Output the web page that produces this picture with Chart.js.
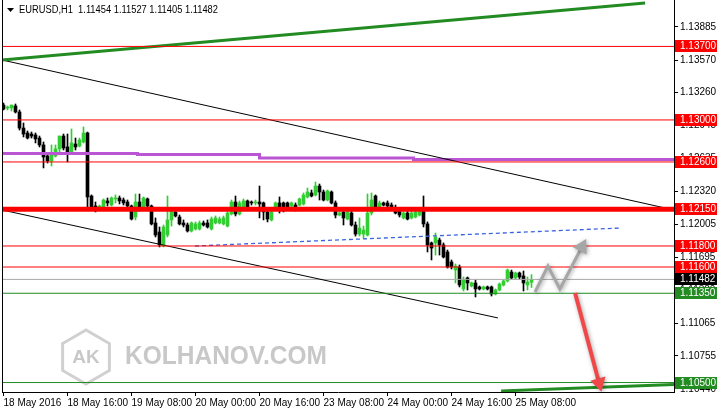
<!DOCTYPE html>
<html>
<head>
<meta charset="utf-8">
<script src="https://cdn.jsdelivr.net/npm/chart.js@4.4.1/dist/chart.umd.min.js"></script>
<style>
  html, body { margin: 0; padding: 0; background: #fff; }
  #wrap { width: 717px; height: 413px; }
</style>
</head>
<body>
<div id="wrap"><canvas id="chart"></canvas></div>
<script>
// EURUSD H1, 18 May 2016 00:00 .. 25 May 2016 12:00 (one bar per hour)
const opens = [
  1.13142,1.13114,1.13114,1.13133,1.13076,1.12923,1.12876,1.12866,1.12857,1.12828,
  1.12762,1.12657,1.12609,1.12657,1.12724,1.12847,1.12743,1.12695,1.12771,1.12752,
  1.12790,1.12876,1.12276,1.12181,1.12162,1.12171,1.12229,1.12190,1.12248,1.12257,
  1.12238,1.12219,1.12181,1.12076,1.12219,1.12171,1.12248,1.12181,1.12019,1.11933,
  1.11800,1.11905,1.12048,1.12124,1.12076,1.12019,1.12000,1.11943,1.11962,1.11962,
  1.12019,1.12019,1.11962,1.12019,1.12019,1.12010,1.11990,1.12105,1.12219,1.12105,
  1.12162,1.12229,1.12219,1.12210,1.12219,1.12210,1.12124,1.12048,1.12162,1.12210,
  1.12210,1.12210,1.12181,1.12190,1.12190,1.12200,1.12267,1.12305,1.12286,1.12371,
  1.12314,1.12238,1.12314,1.12210,1.12095,1.12124,1.12057,1.12114,1.12000,1.11914,
  1.11914,1.11905,1.12114,1.12276,1.12171,1.12210,1.12210,1.12190,1.12143,1.12133,
  1.12067,1.12114,1.12067,1.12076,1.12095,1.12152,1.12010,1.11829,1.11829,1.11857,
  1.11810,1.11743,1.11648,1.11571,1.11600,1.11391,1.11496,1.11419,1.11448,1.11410,
  1.11391,1.11410,1.11410,1.11343,1.11381,1.11429,1.11467,1.11552,1.11496,1.11543,
  1.11515,1.11429,1.11454
];
const highs = [
  1.13161,1.13133,1.13142,1.13152,1.13095,1.12971,1.12895,1.12885,1.12876,1.12847,
  1.12790,1.12676,1.12762,1.12762,1.12847,1.12866,1.12866,1.12914,1.12828,1.12828,
  1.12933,1.12885,1.12286,1.12219,1.12190,1.12248,1.12257,1.12267,1.12286,1.12276,
  1.12257,1.12238,1.12190,1.12295,1.12295,1.12267,1.12257,1.12190,1.12067,1.11981,
  1.12000,1.12276,1.12143,1.12143,1.12095,1.12048,1.12019,1.12029,1.12029,1.12038,
  1.12038,1.12048,1.12076,1.12086,1.12076,1.12086,1.12133,1.12238,1.12276,1.12229,
  1.12248,1.12238,1.12229,1.12238,1.12371,1.12219,1.12143,1.12143,1.12219,1.12267,
  1.12219,1.12219,1.12219,1.12210,1.12257,1.12305,1.12352,1.12333,1.12409,1.12390,
  1.12333,1.12333,1.12324,1.12229,1.12133,1.12162,1.12133,1.12162,1.12029,1.12067,
  1.11990,1.12295,1.12305,1.12286,1.12229,1.12219,1.12229,1.12210,1.12190,1.12152,
  1.12124,1.12133,1.12133,1.12143,1.12162,1.12276,1.12029,1.11838,1.11924,1.11876,
  1.11829,1.11762,1.11667,1.11629,1.11619,1.11505,1.11505,1.11457,1.11476,1.11419,
  1.11419,1.11419,1.11419,1.11391,1.11448,1.11476,1.11581,1.11571,1.11552,1.11552,
  1.11562,1.11505,1.11527
];
const lows = [
  1.13095,1.13095,1.13085,1.13066,1.12904,1.12838,1.12819,1.12828,1.12781,1.12743,
  1.12543,1.12590,1.12562,1.12647,1.12695,1.12714,1.12600,1.12686,1.12714,1.12743,
  1.12781,1.12171,1.12162,1.12124,1.12143,1.12162,1.12181,1.12181,1.12210,1.12200,
  1.12190,1.12171,1.12048,1.12048,1.12133,1.12162,1.12171,1.12000,1.11886,1.11791,
  1.11791,1.11886,1.11990,1.12076,1.12000,1.11981,1.11933,1.11933,1.11952,1.11952,
  1.11990,1.11971,1.11952,1.12010,1.12010,1.12000,1.11981,1.12095,1.12086,1.12095,
  1.12152,1.12162,1.12190,1.12190,1.12067,1.12048,1.12029,1.12038,1.12152,1.12114,
  1.12124,1.12162,1.12171,1.12133,1.12181,1.12190,1.12257,1.12267,1.12276,1.12238,
  1.12229,1.12229,1.12200,1.12067,1.12086,1.12000,1.12048,1.11990,1.11895,1.11895,
  1.11876,1.11895,1.12095,1.12152,1.12162,1.12181,1.12171,1.12152,1.12105,1.12076,
  1.12057,1.12048,1.12057,1.12067,1.12086,1.11981,1.11743,1.11667,1.11714,1.11714,
  1.11686,1.11590,1.11581,1.11448,1.11410,1.11372,1.11381,1.11410,1.11315,1.11381,
  1.11381,1.11381,1.11324,1.11334,1.11372,1.11419,1.11457,1.11486,1.11486,1.11486,
  1.11372,1.11381,1.11405
];
const closes = [
  1.13104,1.13123,1.13142,1.13076,1.12923,1.12866,1.12828,1.12847,1.12819,1.12762,
  1.12647,1.12609,1.12666,1.12724,1.12847,1.12733,1.12695,1.12781,1.12743,1.12809,
  1.12876,1.12267,1.12171,1.12162,1.12181,1.12238,1.12210,1.12257,1.12257,1.12229,
  1.12210,1.12181,1.12057,1.12219,1.12171,1.12257,1.12181,1.12010,1.11905,1.11810,
  1.11981,1.12048,1.12133,1.12086,1.12010,1.12000,1.11943,1.12019,1.12010,1.12019,
  1.12000,1.11981,1.12057,1.12067,1.12057,1.12067,1.12114,1.12219,1.12105,1.12210,
  1.12229,1.12171,1.12210,1.12219,1.12200,1.12124,1.12057,1.12124,1.12210,1.12171,
  1.12143,1.12171,1.12210,1.12152,1.12248,1.12286,1.12314,1.12276,1.12371,1.12314,
  1.12238,1.12324,1.12210,1.12095,1.12114,1.12067,1.12124,1.12000,1.11914,1.11971,
  1.11952,1.12114,1.12238,1.12171,1.12210,1.12190,1.12181,1.12171,1.12114,1.12095,
  1.12114,1.12057,1.12114,1.12124,1.12143,1.12010,1.11810,1.11781,1.11886,1.11810,
  1.11695,1.11600,1.11600,1.11609,1.11429,1.11476,1.11448,1.11448,1.11391,1.11391,
  1.11410,1.11391,1.11343,1.11381,1.11438,1.11467,1.11571,1.11496,1.11543,1.11505,
  1.11448,1.11457,1.11482
];

// time axis (bar index -> label)
const tickIdx = [0, 16, 32, 48, 64, 80, 96, 112, 128];
const tickLabels = ["18 May 2016", "18 May 16:00", "19 May 08:00", "20 May 00:00",
  "20 May 16:00", "23 May 08:00", "24 May 00:00", "24 May 16:00", "25 May 08:00"];
const priceTicks = [1.13885, 1.13570, 1.13260, 1.12945, 1.12635, 1.12320,
  1.12005, 1.11695, 1.11380, 1.11065, 1.10755, 1.10440];

// chart objects
const redLevels = [1.13700, 1.13000, 1.12600, 1.12150, 1.11800, 1.11600];
const greenLevels = [1.11350, 1.10500];
const lastPrice = 1.11482;
const titleText = "EURUSD,H1  1.11454 1.11527 1.11405 1.11482";

const greenTopLine = [[-0.375, 1.13571], [160.4, 1.14113]];
const greenBottomLine = [[124.4, 1.10420], [167.625, 1.10482]];
const channelTop = [[-0.375, 1.13571], [167.625, 1.12143]];
const channelBottom = [[-0.375, 1.12143], [123.6, 1.11115]];
const blueDashed = [[47.9, 1.11800], [154.1, 1.11971]];
const purpleSteps = [[-0.375, 1.12700], [33.5, 1.12681], [64, 1.12671], [102.5, 1.12638], [135, 1.12624], [167.625, 1.12624]];
const grayArrow = [[132.9, 1.11362], [136.1, 1.11610], [139.1, 1.11391], [144.6, 1.11791]];
const redArrow = [[142.9, 1.11353], [148.9, 1.10496]];

const xMin = -0.375, xMax = 167.625;
const yMin = 1.10410, yMax = 1.14142;

const isBull = i => closes[i] >= opens[i];
const candleColor = ctx => isBull(ctx.dataIndex) ? '#32CD32' : '#000000';
const pts = arr => arr.map(p => ({x: p[0], y: p[1]}));

function hLine(level, color, width, order) {
  return {
    type: 'line', data: [{x: xMin, y: level}, {x: xMax, y: level}],
    borderColor: color, borderWidth: width, pointRadius: 0, order: order
  };
}
function segLine(arr, color, width, order, extra) {
  return Object.assign({
    type: 'line', data: pts(arr), borderColor: color, borderWidth: width,
    pointRadius: 0, tension: 0, order: order
  }, extra || {});
}

const datasets = [];
redLevels.forEach(v => datasets.push(hLine(v, '#ff0000', v === 1.12150 ? 5 : 1, 1)));
greenLevels.forEach(v => datasets.push(hLine(v, '#228b22', 1, 1)));
datasets.push(hLine(lastPrice, '#a8a8a8', 1, 3));
datasets.push(segLine(greenTopLine, '#228b22', 3, 1));
datasets.push(segLine(greenBottomLine, '#228b22', 3, 1));
datasets.push(segLine(channelTop, '#000000', 1, 1));
datasets.push(segLine(channelBottom, '#000000', 1, 1));
datasets.push(segLine(blueDashed, '#3b63e0', 1.3, 1, {borderDash: [4, 3]}));
datasets.push(segLine(purpleSteps, '#ba55d3', 3, 1, {stepped: 'after'}));
const arrowHead = (n, rot) => ({
  pointRadius: c => c.dataIndex === n - 1 ? 9 : 0,
  pointStyle: 'triangle', pointRotation: rot, pointBorderWidth: 0
});
datasets.push(segLine(grayArrow, '#a6a6a6', 3, 0,
  Object.assign({shadow: true, pointBackgroundColor: '#a6a6a6'}, arrowHead(grayArrow.length, 28))));
datasets.push(segLine(redArrow, '#f04848', 4, 0,
  Object.assign({shadow: true, pointBackgroundColor: '#f04848'}, arrowHead(redArrow.length, 165))));

datasets.push({
  type: 'bar', data: opens.map((o, i) => ({x: i, y: [o, closes[i]]})),
  backgroundColor: candleColor, barThickness: 3, grouped: false, order: 5
});
datasets.push({
  type: 'bar', data: lows.map((l, i) => ({x: i, y: [l, highs[i]]})),
  backgroundColor: candleColor, barThickness: 1, grouped: false, order: 6
});

const decor = {
  id: 'decor',
  beforeDatasetsDraw(chart) {
    const ctx = chart.ctx;
    ctx.save();
    // watermark
    const cx = 86, cy = 357, r = 27;
    ctx.strokeStyle = '#d0d0d0';
    ctx.lineWidth = 3;
    ctx.beginPath();
    for (let i = 0; i < 6; i++) {
      const a = Math.PI / 3 * i + Math.PI / 6;
      const px = cx + r * Math.cos(a), py = cy + r * Math.sin(a);
      i ? ctx.lineTo(px, py) : ctx.moveTo(px, py);
    }
    ctx.closePath();
    ctx.stroke();
    ctx.fillStyle = '#c8c8c8';
    ctx.textAlign = 'center';
    ctx.textBaseline = 'middle';
    ctx.font = 'bold 19px "Liberation Sans", Arial, sans-serif';
    ctx.fillText('AK', cx, cy + 1);
    ctx.textAlign = 'left';
    ctx.font = 'bold 26px "Liberation Sans", Arial, sans-serif';
    ctx.fillText('KOLHANOV.COM', 125, cy, 202);
    ctx.restore();
  },
  beforeDatasetDraw(chart, args) {
    if (args.meta._dataset.shadow) {
      const ctx = chart.ctx;
      ctx.save();
      ctx.shadowColor = 'rgba(0,0,0,0.35)';
      ctx.shadowBlur = 4;
      ctx.shadowOffsetX = 1;
      ctx.shadowOffsetY = 1;
    }
  },
  afterDatasetDraw(chart, args) {
    if (args.meta._dataset.shadow) chart.ctx.restore();
  },
  afterDraw(chart) {
    const ctx = chart.ctx, a = chart.chartArea, ys = chart.scales.y;
    ctx.save();
    ctx.fillStyle = '#000';
    ctx.fillRect(a.left, 0, 1, a.bottom);
    // title
    ctx.beginPath();
    ctx.moveTo(7, 8); ctx.lineTo(14, 8); ctx.lineTo(10.5, 12);
    ctx.closePath(); ctx.fill();
    ctx.font = '10px "Liberation Sans", Arial, sans-serif';
    ctx.textBaseline = 'middle';
    ctx.textAlign = 'left';
    ctx.fillText(titleText, 19, 10.5, 199);
    // price labels
    ctx.font = '10px "Liberation Sans", Arial, sans-serif';
    const boxes = redLevels.map(v => [v, '#ff0000'])
      .concat([[lastPrice, '#000000']], greenLevels.map(v => [v, '#228b22']));
    boxes.forEach(([v, c]) => {
      const y = Math.round(ys.getPixelForValue(v));
      ctx.fillStyle = c;
      ctx.fillRect(a.right + 1, y - 6, 42, 12);
      ctx.fillStyle = '#fff';
      ctx.fillText(v.toFixed(5), a.right + 6, y + 0.5);
    });
    ctx.restore();
  }
};

Chart.defaults.font.family = '"Liberation Sans", Arial, sans-serif';
Chart.defaults.font.size = 10;
Chart.defaults.color = '#000';

const noPad = s => { s.paddingTop = 0; s.paddingBottom = 0; s.paddingLeft = 0; s.paddingRight = 0; };

new Chart(document.getElementById('chart'), {
  type: 'bar',
  data: {datasets: datasets},
  options: {
    responsive: true,
    maintainAspectRatio: false,
    animation: false,
    events: [],
    layout: {autoPadding: false, padding: {left: 2, top: 0, right: 0, bottom: 0}},
    plugins: {legend: {display: false}, tooltip: {enabled: false}},
    scales: {
      x: {
        type: 'linear', min: xMin, max: xMax, offset: false,
        afterBuildTicks: s => { s.ticks = tickIdx.map(v => ({value: v})); },
        afterFit: s => { s.height = 21; noPad(s); },
        ticks: {
          callback: v => tickLabels[tickIdx.indexOf(v)],
          align: 'start', maxRotation: 0, autoSkip: false, padding: 1
        },
        grid: {drawOnChartArea: false, tickLength: 4, color: '#000', offset: false},
        border: {color: '#000'}
      },
      y: {
        position: 'right', min: yMin, max: yMax,
        afterBuildTicks: s => { s.ticks = priceTicks.map(v => ({value: v})); },
        afterFit: s => { s.width = 43; noPad(s); },
        ticks: {callback: v => v.toFixed(5), autoSkip: false, padding: 2},
        grid: {drawOnChartArea: false, tickLength: 4, color: '#000'},
        border: {color: '#000'}
      }
    }
  },
  plugins: [decor]
});
</script>
</body>
</html>
